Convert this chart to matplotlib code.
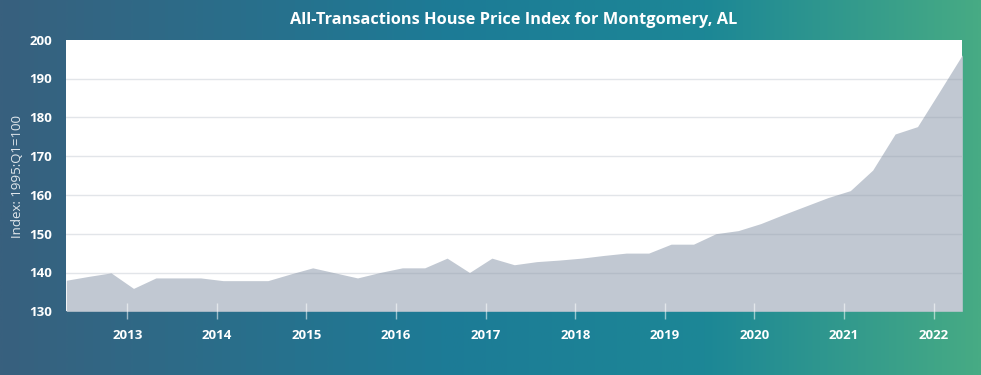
import numpy as np
import matplotlib
matplotlib.use("Agg")
from matplotlib import pyplot as plt
from matplotlib.colors import LinearSegmentedColormap

# quarterly index values, 2012 Q2 .. 2022 Q2
index_values = [138.0, 139.0, 139.9, 135.9, 138.6, 138.6, 138.6, 137.9, 137.9, 137.9,
                139.6, 141.2, 139.9, 138.6, 140.0, 141.2, 141.2, 143.7, 140.0, 143.7,
                142.0, 142.8, 143.2, 143.7, 144.4, 145.0, 145.0, 147.3, 147.3, 150.0,
                150.8, 152.6, 154.9, 157.1, 159.3, 161.1, 166.4, 175.7, 177.6, 186.8,
                196.1]
start_year = 2012.32
years = np.array([start_year + 0.25 * i for i in range(len(index_values))])
year_ticks = list(range(2013, 2023))
y_ticks = [130, 140, 150, 160, 170, 180, 190, 200]
title = "All-Transactions House Price Index for Montgomery, AL"
y_label = "Index: 1995:Q1=100"

plt.rcParams['font.family'] = ['Open Sans', 'DejaVu Sans']

fig = plt.figure(figsize=(9.81, 3.75), dpi=100)

# gradient background
bg = fig.add_axes([0, 0, 1, 1], zorder=0)
bg_cmap = LinearSegmentedColormap.from_list(
    "bg", [(0.0, "#38607e"), (0.45, "#1d7b96"), (0.72, "#1c8796"), (1.0, "#47ab84")])
bg.imshow(np.linspace(0, 1, 512).reshape(1, -1), cmap=bg_cmap, aspect="auto",
          extent=[0, 1, 0, 1])
bg.axis("off")

ax = fig.add_axes([66.3 / 981, 1 - 311.3 / 375, 896 / 981, 271.6 / 375], zorder=1)
ax.set_facecolor("white")
ax.fill_between(years, 130, index_values, color="#c1c8d2", lw=0, zorder=1)
for v in y_ticks[1:-1]:
    ax.axhline(v, color="#8f99a8", alpha=0.25, lw=1, zorder=2)

ax.set_xlim(years[0], years[-1])
ax.set_ylim(130, 200)
ax.set_xticks(year_ticks)
ax.set_xticklabels([str(y) for y in year_ticks])
ax.set_yticks(y_ticks)
for s in ax.spines.values():
    s.set_visible(False)

ax.tick_params(axis="x", direction="inout", length=11, width=1,
               color=(1, 1, 1, 0.55), colors="white", labelsize=9.5, pad=7)
ax.tick_params(axis="y", length=0, colors="white", labelsize=9.5, pad=10)
for lbl in ax.get_xticklabels() + ax.get_yticklabels():
    lbl.set_fontweight("bold")
    lbl.set_color("white")

fig.text(514 / 981, 1 - 20 / 375, title, color="white", fontsize=11.8,
         fontweight="bold", ha="center", va="center")
fig.text(18 / 981, 1 - 176 / 375, y_label, color=(1, 1, 1, 0.85), fontsize=9.5,
         rotation=90, ha="center", va="center")

fig.savefig("out.png", dpi=100)
